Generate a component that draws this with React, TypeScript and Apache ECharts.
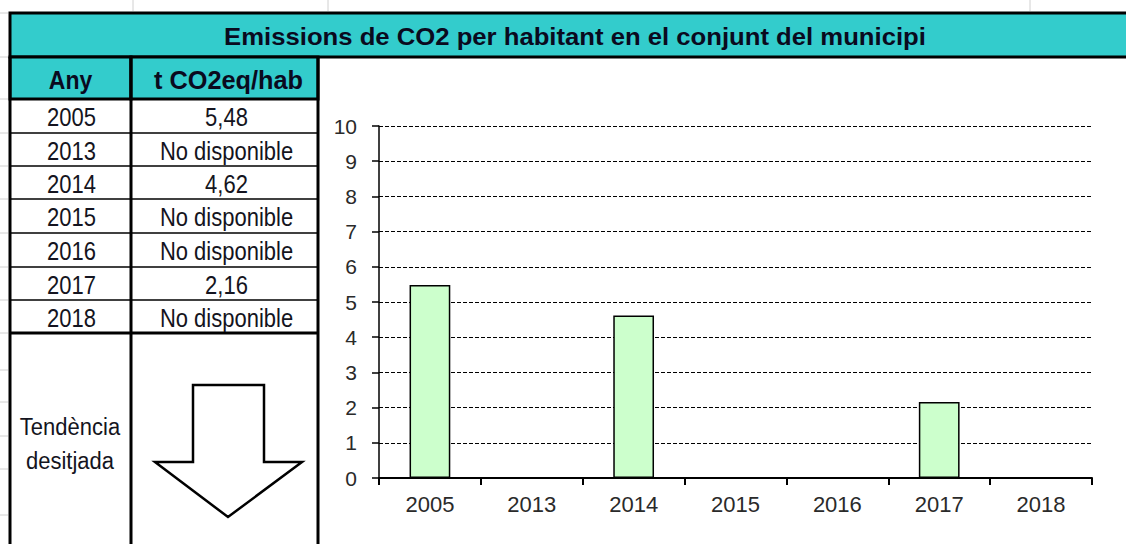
import React, { useEffect, useRef } from "react";
import * as echarts from "echarts";

const title = "Emissions de CO2 per habitant en el conjunt del municipi";
const headerYear = "Any";
const headerValue = "t CO2eq/hab";
const years = ["2005", "2013", "2014", "2015", "2016", "2017", "2018"];
const emissions: (number | null)[] = [5.48, null, 4.62, null, null, 2.16, null];
const notAvailable = "No disponible";
const trendLabel = ["Tendència", "desitjada"];
const yMin = 0;
const yMax = 10;
const yInterval = 1;

const FONT = "'Liberation Sans', Arial, sans-serif";
const TEAL = "#33CCCC";

function fmt(v: number | null) {
  return v == null ? notAvailable : v.toFixed(2).replace(".", ",");
}

export default function App() {
  const ref = useRef<HTMLDivElement>(null);
  useEffect(() => {
    if (!ref.current) return;
    const chart = echarts.init(ref.current, undefined, { renderer: "svg" });

    const W = 1126;
    const colX = [10, 131, 318];
    const rowY = [99, 133, 166, 199, 233, 267, 300, 333];
    const g: any[] = [];

    // spreadsheet faint gridline stubs
    const stubYs = [13, 57, 99, 133, 166, 199, 233, 267, 300, 333, 370, 402, 436, 469, 515];
    stubYs.forEach((y) =>
      g.push({ type: "line", shape: { x1: 0, y1: y, x2: 8, y2: y }, style: { stroke: "#d0d0d0", lineWidth: 1 }, z: 1 })
    );
    [133, 328, 1030].forEach((x) =>
      g.push({ type: "line", shape: { x1: x, y1: 0, x2: x, y2: 11 }, style: { stroke: "#d0d0d0", lineWidth: 1 }, z: 1 })
    );

    // title band
    g.push({ type: "rect", shape: { x: 10, y: 13, width: W + 20, height: 44 }, style: { fill: TEAL, stroke: "#000", lineWidth: 3 }, z: 2 });
    g.push({
      type: "text", x: 575, y: 37, scaleX: 1.07, z: 5,
      style: { text: title, font: `bold 24px ${FONT}`, fill: "#0a0a1e", textAlign: "center", textVerticalAlign: "middle" },
    });

    // header cells
    g.push({ type: "rect", shape: { x: colX[0], y: 57, width: colX[1] - colX[0], height: 42 }, style: { fill: TEAL, stroke: "#000", lineWidth: 3 }, z: 3 });
    g.push({ type: "rect", shape: { x: colX[1], y: 57, width: colX[2] - colX[1], height: 42 }, style: { fill: TEAL, stroke: "#000", lineWidth: 3 }, z: 3 });
    g.push({
      type: "text", x: (colX[0] + colX[1]) / 2, y: 80, scaleY: 1.12, z: 5,
      style: { text: headerYear, font: `bold 23px ${FONT}`, fill: "#0a0a1e", textAlign: "center", textVerticalAlign: "middle" },
    });
    g.push({
      type: "text", x: (colX[1] + colX[2]) / 2 + 4, y: 80, scaleX: 1.1, scaleY: 1.12, z: 5,
      style: { text: headerValue, font: `bold 23px ${FONT}`, fill: "#0a0a1e", textAlign: "center", textVerticalAlign: "middle" },
    });

    // data rows
    years.forEach((yr, i) => {
      const cy = (rowY[i] + rowY[i + 1]) / 2 + 1.5;
      g.push({
        type: "text", x: (colX[0] + colX[1]) / 2 + 1, y: cy, scaleY: 1.15, z: 5,
        style: { text: yr, font: `22px ${FONT}`, fill: "#141420", textAlign: "center", textVerticalAlign: "middle" },
      });
      g.push({
        type: "text", x: (colX[1] + colX[2]) / 2 + 2, y: cy, scaleY: 1.15, z: 5,
        style: { text: fmt(emissions[i]), font: `22px ${FONT}`, fill: "#141420", textAlign: "center", textVerticalAlign: "middle" },
      });
      if (i > 0) {
        g.push({ type: "line", shape: { x1: colX[0], y1: rowY[i], x2: colX[2], y2: rowY[i] }, style: { stroke: "#000", lineWidth: 1.5 }, z: 4 });
      }
    });
    // thick bottom of rows
    g.push({ type: "line", shape: { x1: colX[0], y1: rowY[7], x2: colX[2], y2: rowY[7] }, style: { stroke: "#000", lineWidth: 3 }, z: 4 });
    // vertical table borders
    colX.forEach((x) =>
      g.push({ type: "line", shape: { x1: x, y1: 57, x2: x, y2: 560 }, style: { stroke: "#000", lineWidth: 3 }, z: 4 })
    );

    // trend text
    g.push({
      type: "text", x: 70, y: 427, scaleY: 1.12, z: 5,
      style: { text: trendLabel[0], font: `22px ${FONT}`, fill: "#141420", textAlign: "center", textVerticalAlign: "middle" },
    });
    g.push({
      type: "text", x: 70, y: 461, scaleY: 1.12, z: 5,
      style: { text: trendLabel[1], font: `22px ${FONT}`, fill: "#141420", textAlign: "center", textVerticalAlign: "middle" },
    });
    // arrow
    g.push({
      type: "polygon", z: 5,
      shape: { points: [[193, 385], [264, 385], [264, 462], [302, 462], [228, 517], [155, 462], [193, 462]] },
      style: { fill: "#fff", stroke: "#000", lineWidth: 2.5 },
    });

    chart.setOption({
      animation: false,
      backgroundColor: "#fff",
      textStyle: { fontFamily: FONT },
      graphic: g,
      grid: { left: 379, top: 126, width: 713, height: 352, containLabel: false },
      xAxis: {
        type: "category",
        data: years,
        axisLine: { lineStyle: { color: "#000", width: 2 } },
        axisTick: { show: true, length: 7, lineStyle: { color: "#000", width: 2 } },
        axisLabel: { fontSize: 22, color: "#2a2a2a", margin: 15, fontFamily: FONT },
        splitLine: { show: false },
      },
      yAxis: {
        type: "value",
        min: yMin,
        max: yMax,
        interval: yInterval,
        axisLine: { show: true, lineStyle: { color: "#000", width: 1.5 } },
        axisTick: { show: true, length: 7, lineStyle: { color: "#000", width: 1.5 } },
        axisLabel: { fontSize: 21, color: "#2a2a2a", margin: 22, fontFamily: FONT },
        splitLine: { show: true, lineStyle: { color: "#000", width: 1, type: [4, 2] } },
      },
      series: [
        {
          type: "bar",
          data: emissions.map((v) => (v == null ? "-" : v)),
          barWidth: "40%",
          itemStyle: { color: "#CCFFCC", borderColor: "#000", borderWidth: 1.5 },
        },
      ],
    });
    return () => chart.dispose();
  }, []);
  return <div ref={ref} style={{ position: "absolute", left: 0, top: 0, width: 1126, height: 544 }} />;
}
